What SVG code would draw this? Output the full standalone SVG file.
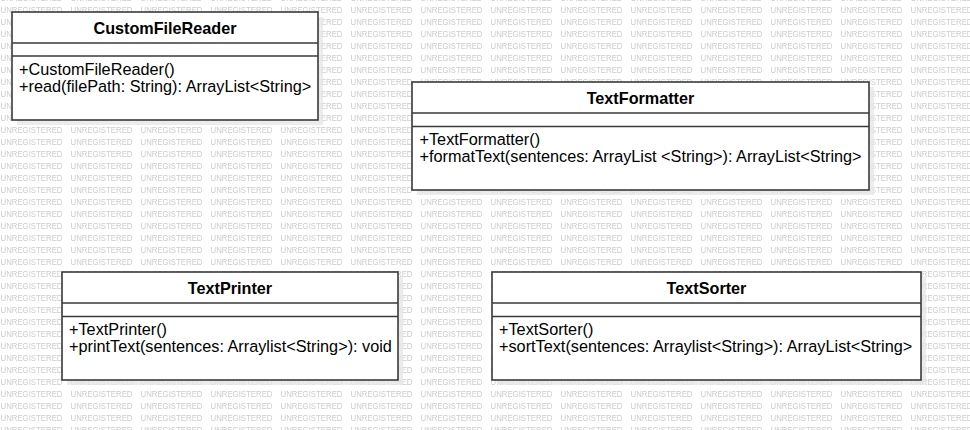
<svg xmlns="http://www.w3.org/2000/svg" width="970" height="430" viewBox="0 0 970 430">
<style>
.wm{font-family:"Liberation Sans",Arial,sans-serif;font-size:9px;fill:#cccccc}
.box{fill:#fff;stroke:#3a3a3a;stroke-width:1.6}
.sep{stroke:#3a3a3a;stroke-width:1.6}
.shadow{fill:#e6e6e6;opacity:0.75}
.title{font-family:"Liberation Sans",Arial,sans-serif;font-size:16.2px;font-weight:bold;fill:#000;text-anchor:middle}
.mem{font-family:"Liberation Sans",Arial,sans-serif;font-size:16.25px;fill:#000}
</style>
<defs>
<pattern id="wmPat" patternUnits="userSpaceOnUse" x="0" y="3" width="70" height="12">
<text class="wm" x="0.5" y="9.5" textLength="62" lengthAdjust="spacingAndGlyphs">UNREGISTERED</text>
</pattern>
</defs>
<rect x="0" y="0" width="970" height="430" fill="#fff"/>
<rect x="0" y="0" width="970" height="430" fill="url(#wmPat)"/>
<g id="connectors"></g>
<g id="CustomFileReader">
<rect class="shadow" x="17" y="17" width="306" height="108"/>
<rect class="box" x="12" y="12" width="306" height="108"/>
<line class="sep" x1="12" y1="43" x2="318" y2="43"/>
<line class="sep" x1="12" y1="56" x2="318" y2="56"/>
<text class="title" x="165" y="33.5">CustomFileReader</text>
<text class="mem" x="19" y="74.5">+CustomFileReader()</text>
<text class="mem" x="19" y="92">+read(filePath: String): ArrayList&lt;String&gt;</text>
</g>
<g id="TextFormatter">
<rect class="shadow" x="417" y="87" width="457" height="108"/>
<rect class="box" x="412" y="82" width="457" height="108"/>
<line class="sep" x1="412" y1="113" x2="869" y2="113"/>
<line class="sep" x1="412" y1="126.5" x2="869" y2="126.5"/>
<text class="title" x="640.5" y="103.5">TextFormatter</text>
<text class="mem" x="419.5" y="144.5">+TextFormatter()</text>
<text class="mem" x="419.5" y="162">+formatText(sentences: ArrayList &lt;String&gt;): ArrayList&lt;String&gt;</text>
</g>
<g id="TextPrinter">
<rect class="shadow" x="67" y="277" width="336" height="108"/>
<rect class="box" x="62" y="272" width="336" height="108"/>
<line class="sep" x1="62" y1="303" x2="398" y2="303"/>
<line class="sep" x1="62" y1="316.5" x2="398" y2="316.5"/>
<text class="title" x="230" y="293.5">TextPrinter</text>
<text class="mem" x="69" y="334.5">+TextPrinter()</text>
<text class="mem" x="69" y="352">+printText(sentences: Arraylist&lt;String&gt;): void</text>
</g>
<g id="TextSorter">
<rect class="shadow" x="497" y="277" width="429" height="108"/>
<rect class="box" x="492" y="272" width="429" height="108"/>
<line class="sep" x1="492" y1="303" x2="921" y2="303"/>
<line class="sep" x1="492" y1="316.5" x2="921" y2="316.5"/>
<text class="title" x="706.5" y="293.5">TextSorter</text>
<text class="mem" x="499" y="334.5">+TextSorter()</text>
<text class="mem" x="499" y="352">+sortText(sentences: Arraylist&lt;String&gt;): ArrayList&lt;String&gt;</text>
</g>
</svg>
